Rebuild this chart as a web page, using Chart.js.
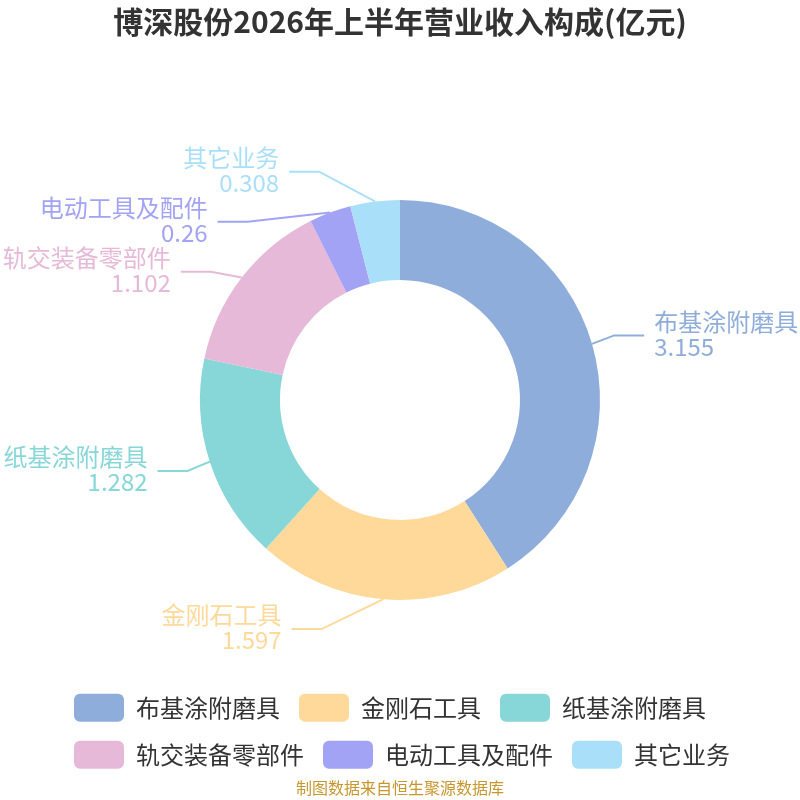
<!DOCTYPE html>
<html>
<head>
<meta charset="utf-8">
<script src="https://cdn.jsdelivr.net/npm/chart.js@4/dist/chart.umd.min.js"></script>
<style>
  html, body { margin: 0; padding: 0; background: #fff; }
  #wrap { width: 800px; height: 800px; }
</style>
</head>
<body>
<div id="wrap"><canvas id="pieChart"></canvas></div>
<script>
// categories and values (亿元)
var categories = ['布基涂附磨具', '金刚石工具', '纸基涂附磨具', '轨交装备零部件', '电动工具及配件', '其它业务'];
var revenue = [3.155, 1.597, 1.282, 1.102, 0.26, 0.308];
var sliceColors = ['#8FADDA', '#FFD999', '#87D6D8', '#E6B9D9', '#A3A3F6', '#A9DFF9'];

var FONT = '"Noto Sans CJK SC", "Noto Sans", sans-serif';

// outside labels with leader lines, spread apart so they don't overlap
var outsideLabels = {
  id: 'outsideLabels',
  afterDatasetsDraw: function(chart) {
    var meta = chart.getDatasetMeta(0);
    var ctx = chart.ctx;
    var len1 = 30, len2 = 30, gap = 10, h = 50;
    var items = [];
    meta.data.forEach(function(arc, i) {
      var mid = (arc.startAngle + arc.endAngle) / 2;
      var c = Math.cos(mid), s = Math.sin(mid);
      items.push({
        i: i,
        dir: c < 0 ? -1 : 1,
        sx: arc.x + c * arc.outerRadius,
        sy: arc.y + s * arc.outerRadius,
        y: arc.y + s * (arc.outerRadius + len1),
        cx: arc.x, cy: arc.y, r: arc.outerRadius
      });
    });
    // push labels down on each side when they collide
    [-1, 1].forEach(function(dir) {
      var side = items.filter(function(it) { return it.dir === dir; });
      side.sort(function(a, b) { return a.y - b.y; });
      for (var k = 1; k < side.length; k++) {
        if (side[k].y < side[k - 1].y + h) side[k].y = side[k - 1].y + h;
      }
    });
    ctx.save();
    items.forEach(function(it) {
      // bend point sits on an ellipse round the ring
      var a = it.r + 22, b = it.r + 45;
      var dy = it.y - it.cy;
      var dx = Math.abs(dy) < b ? a * Math.sqrt(1 - dy * dy / (b * b)) : 0;
      var px = it.cx + it.dir * dx;
      var ex = it.cx + it.dir * (dx + len2);
      var col = sliceColors[it.i];
      ctx.strokeStyle = col;
      ctx.lineWidth = 2;
      ctx.beginPath();
      ctx.moveTo(it.sx, it.sy);
      ctx.lineTo(px, it.y);
      ctx.lineTo(ex, it.y);
      ctx.stroke();
      ctx.fillStyle = col;
      ctx.font = '24px ' + FONT;
      ctx.textAlign = it.dir > 0 ? 'left' : 'right';
      ctx.textBaseline = 'middle';
      var tx = ex + it.dir * gap;
      ctx.fillText(categories[it.i], tx, it.y - 14);
      ctx.fillText(String(revenue[it.i]), tx, it.y + 11);
    });
    ctx.restore();
  }
};

// legend rows start at the same left edge, not centred
var legendLeft = {
  id: 'legendLeft',
  afterLayout: function(chart) {
    chart.legend.left = 55;
  }
};

new Chart(document.getElementById('pieChart'), {
  type: 'doughnut',
  data: {
    labels: categories,
    datasets: [{
      label: '营业收入',
      data: revenue,
      backgroundColor: sliceColors,
      borderWidth: 0,
      radius: 200,
      cutout: '60%'
    }]
  },
  options: {
    responsive: true,
    maintainAspectRatio: false,
    animation: false,
    events: [],
    layout: { padding: { top: 0, bottom: 2, left: 0, right: 0 } },
    plugins: {
      title: {
        display: true,
        text: '博深股份2026年上半年营业收入构成(亿元)',
        color: '#333',
        font: { family: FONT, size: 30, weight: 'bold' },
        padding: { top: 4, bottom: 85 }
      },
      subtitle: {
        display: true,
        position: 'bottom',
        text: '制图数据来自恒生聚源数据库',
        color: '#C8962E',
        font: { family: FONT, size: 16 },
        padding: { top: 0, bottom: 0 }
      },
      legend: {
        position: 'bottom',
        align: 'start',
        labels: {
          boxWidth: 50,
          boxHeight: 28,
          padding: 19,
          color: '#333',
          font: { family: FONT, size: 24 },
          useBorderRadius: true,
          borderRadius: 6
        }
      },
      tooltip: { enabled: false }
    }
  },
  plugins: [outsideLabels, legendLeft]
});
</script>
</body>
</html>
